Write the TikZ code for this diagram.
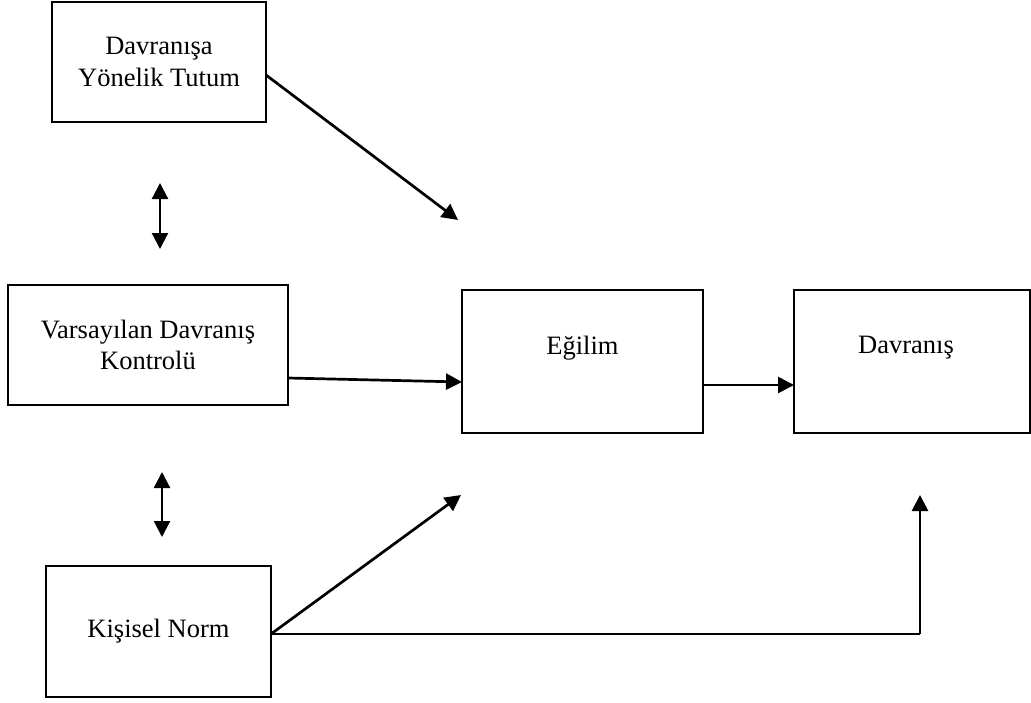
\documentclass[tikz,border=0pt]{standalone}
\usepackage{fontspec}
\setmainfont{Liberation Serif}
\usetikzlibrary{arrows.meta}

\begin{document}
\begin{tikzpicture}[x=1pt,y=-1pt,
  yazi/.style={font=\fontsize{26.5}{31.5}\selectfont,align=center},
  kutu/.style={yazi,draw,line width=1.4pt,inner sep=0pt,outer sep=0pt},
  ok/.style={line width=2.7pt,-{Triangle[length=16pt,width=16pt]}},
  ciftok/.style={line width=2.3pt,{Triangle[length=16pt,width=16pt]}-{Triangle[length=16pt,width=16pt]}}]
\useasboundingbox (0,0) rectangle (1031,702);

% Boxes
\node[kutu,minimum width=214pt,minimum height=120pt] (tutum) at (159,62) {Davranışa\\Yönelik Tutum};
\node[kutu,minimum width=280pt,minimum height=120pt] (kontrol) at (148,345) {Varsayılan Davranış\\Kontrolü};
\node[kutu,minimum width=225pt,minimum height=131pt] (norm) at (158.5,631.5) {Kişisel Norm};
\node[kutu,minimum width=241pt,minimum height=143pt] (egilim) at (582.5,361.5) {};
\node[kutu,minimum width=236pt,minimum height=143pt] (davranis) at (912,361.5) {};

% Box texts
\node[yazi] (egilimyazi) at ([yshift=13.5pt]egilim.center) {Eğilim};
\node[yazi] (davranisyazi) at ([xshift=-6pt,yshift=13.5pt]davranis.center) {Davranış};

% Free ends
\coordinate (uc1) at (458,220);
\coordinate (uc2) at (461,495);
\coordinate (c1a) at (160,183);
\coordinate (c1b) at (160,249);
\coordinate (c2a) at (162,472);
\coordinate (c2b) at (162,537);
\coordinate (kose) at (920,634);
\coordinate (uc3) at (920,495);

% Arrows
\draw[ok] ([yshift=-13pt]tutum.east) -- (uc1);
\draw[ciftok] (c1a) -- (c1b);
\draw[ciftok] (c2a) -- (c2b);
\draw[ok] ([yshift=-33pt]kontrol.east) -- ([yshift=-20.5pt]egilim.west);
\draw[ok] ([yshift=-23.5pt]egilim.east) -- ([yshift=-23.5pt]davranis.west);
\draw[ok] ([yshift=-2.5pt]norm.east) -- (uc2);
\draw[line width=1.4pt] ([yshift=-2.5pt]norm.east) -- (kose);
\draw[ok] (kose) -- (uc3);
\end{tikzpicture}
\end{document}
